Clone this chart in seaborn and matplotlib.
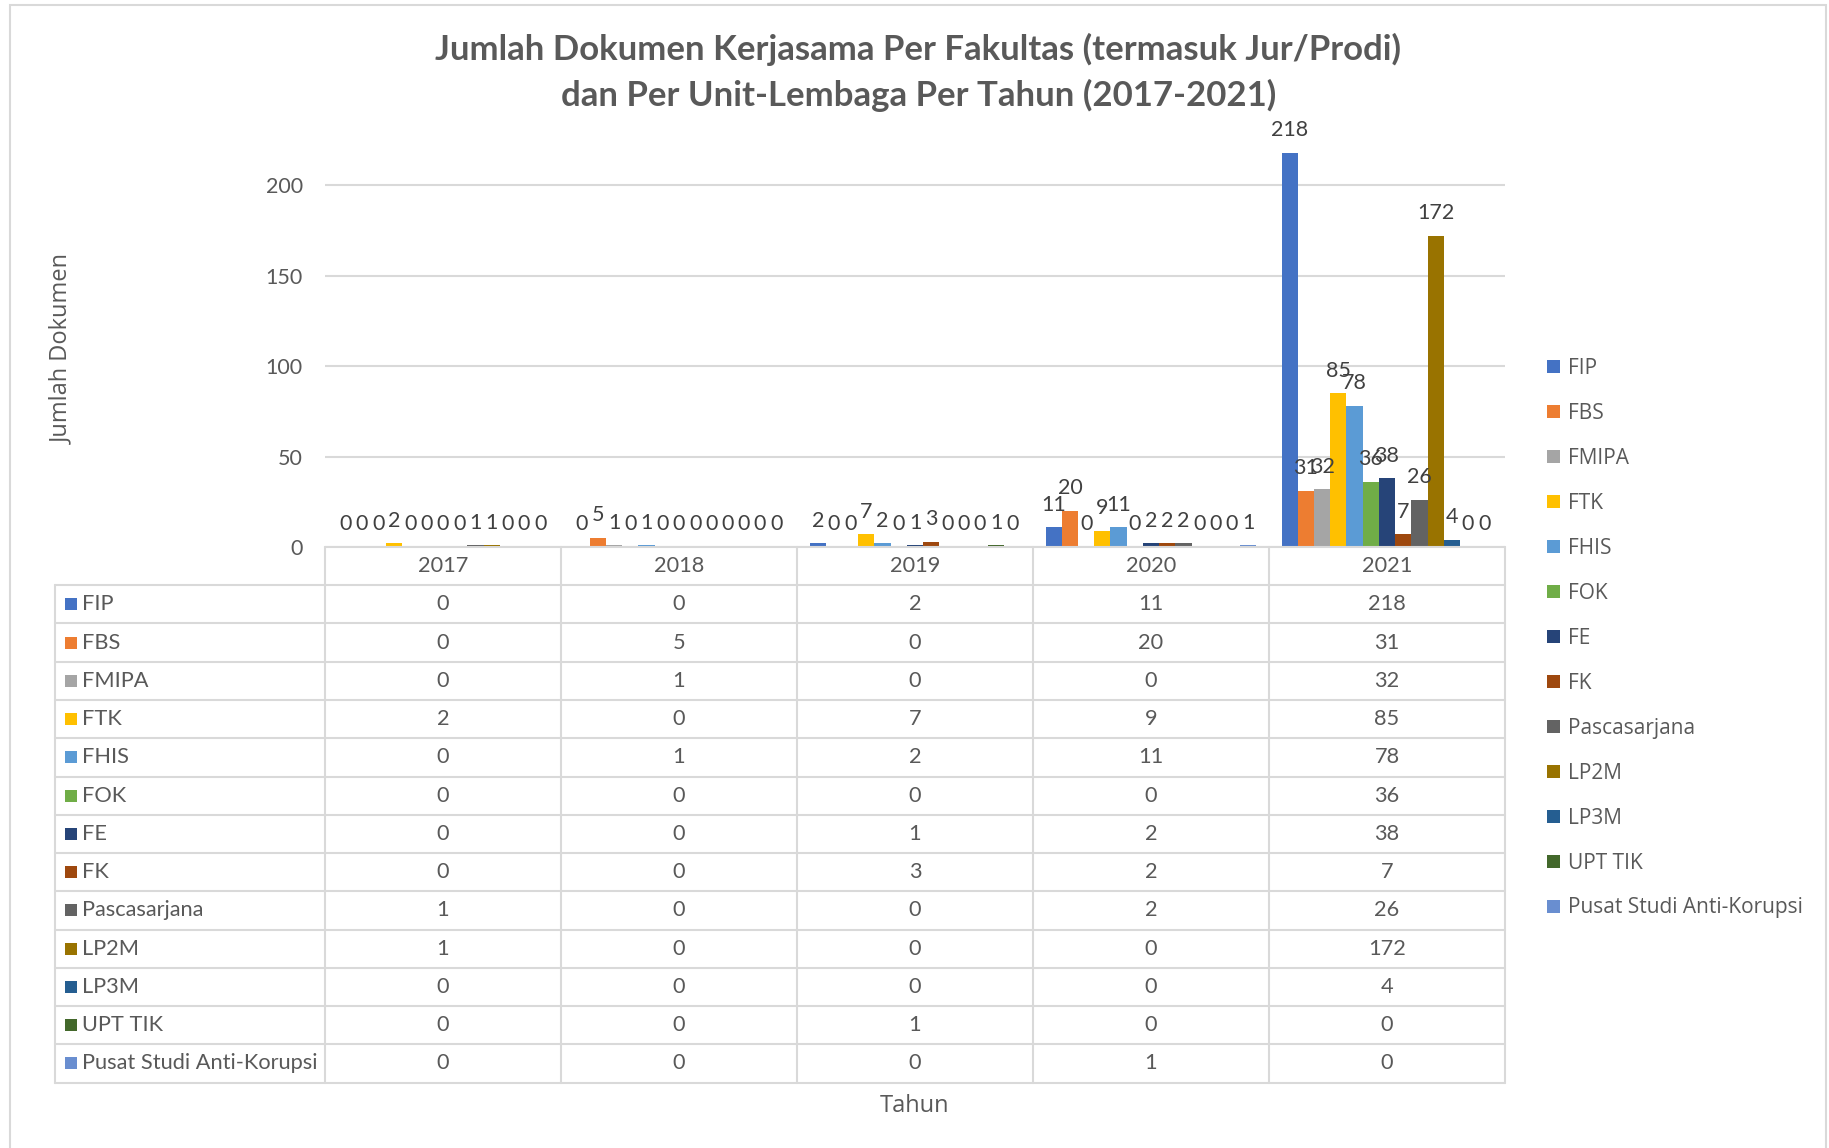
import matplotlib
matplotlib.use("Agg")
import matplotlib.pyplot as plt
from matplotlib.patches import Rectangle, Patch
import seaborn as sns
import pandas as pd

years = ["2017", "2018", "2019", "2020", "2021"]
units = ["FIP", "FBS", "FMIPA", "FTK", "FHIS", "FOK", "FE", "FK",
         "Pascasarjana", "LP2M", "LP3M", "UPT TIK", "Pusat Studi Anti-Korupsi"]
FIP = [0, 0, 2, 11, 218]
FBS = [0, 5, 0, 20, 31]
FMIPA = [0, 1, 0, 0, 32]
FTK = [2, 0, 7, 9, 85]
FHIS = [0, 1, 2, 11, 78]
FOK = [0, 0, 0, 0, 36]
FE = [0, 0, 1, 2, 38]
FK = [0, 0, 3, 2, 7]
PASCA = [1, 0, 0, 2, 26]
LP2M = [1, 0, 0, 0, 172]
LP3M = [0, 0, 0, 0, 4]
UPT_TIK = [0, 0, 1, 0, 0]
PSAK = [0, 0, 0, 1, 0]
series = [FIP, FBS, FMIPA, FTK, FHIS, FOK, FE, FK, PASCA, LP2M, LP3M, UPT_TIK, PSAK]
colors = ["#4472C4", "#ED7D31", "#A5A5A5", "#FFC000", "#5B9BD5", "#70AD47",
          "#264478", "#9E480E", "#636363", "#997300", "#255E91", "#43682B", "#698ED0"]

rows = []
for u, vals in zip(units, series):
    for y, v in zip(years, vals):
        rows.append({"Tahun": y, "Unit": u, "Jumlah": v})
df = pd.DataFrame(rows)

sns.set_theme(style="white")
plt.rcParams["font.family"] = ["Lato", "DejaVu Sans"]
TXT = "#595959"
GRID = "#D9D9D9"

W, H = 1829, 1148
fig = plt.figure(figsize=(W / 100, H / 100), dpi=100)
fig.patch.set_facecolor("white")

# outer chart border
fig.add_artist(Rectangle((10 / W, -0.01), (1826 - 10) / W, (H - 5) / H + 0.01,
                         transform=fig.transFigure, fill=False, edgecolor=GRID, lw=1.5))

pl, pr, pb, pt = 325, 1505, 547, 131
ax = fig.add_axes([pl / W, 1 - pb / H, (pr - pl) / W, (pb - pt) / H])
sns.barplot(data=df, x="Tahun", y="Jumlah", hue="Unit", hue_order=units, order=years,
            palette=colors, width=0.893, ax=ax, legend=False, saturation=1,
            edgecolor="none", linewidth=0)
ax.set_xlim(-0.5, 4.5)
ax.set_ylim(0, 230)
ax.set_yticks([0, 50, 100, 150, 200])
ax.yaxis.grid(True, color=GRID, lw=1.5)
ax.set_axisbelow(True)
for s in ax.spines.values():
    s.set_visible(False)
ax.set_xticks([])
ax.set_xlabel("")
ax.set_ylabel("")
ax.tick_params(axis="y", length=0, pad=16, labelsize=15.5, labelcolor=TXT)
for c in ax.containers:
    ax.bar_label(c, padding=9, fontsize=15.5, color="#404040")

# title
fig.text(0.502, 1 - 42.5 * 1.1665 / H, "Jumlah Dokumen Kerjasama Per Fakultas (termasuk Jur/Prodi)",
         ha="center", va="center", fontsize=25, fontweight="bold", color=TXT)
fig.text(0.502, 1 - 81.5 * 1.1665 / H, "dan Per Unit-Lembaga Per Tahun (2017-2021)",
         ha="center", va="center", fontsize=25, fontweight="bold", color=TXT)

# axis titles
fig.text(62 / W, 1 - 349 / H, "Jumlah Dokumen", rotation=90, ha="center", va="center",
         fontsize=17, color=TXT, family="Open Sans")
fig.text(914 / W, 1 - 1106 / H, "Tahun", ha="center", va="center", fontsize=17,
         color=TXT, family="Open Sans")

# data table
tl, tb = 55, 1082.5
tax = fig.add_axes([tl / W, 1 - tb / H, (pr - tl) / W, (tb - pb) / H])
xl = -0.5 - (pl - tl) / 236.0
tax.set_xlim(xl, 4.5)
nrow = len(units) + 1
tax.set_ylim(nrow, 0)
tax.axis("off")
lw = 1.5
tax.plot([-0.5, 4.5], [0, 0], color=GRID, lw=lw, clip_on=False)
for r in range(1, nrow + 1):
    tax.plot([xl, 4.5], [r, r], color=GRID, lw=lw, clip_on=False)
tax.plot([xl, xl], [1, nrow], color=GRID, lw=lw, clip_on=False)
for i in range(6):
    tax.plot([i - 0.5, i - 0.5], [0, nrow], color=GRID, lw=lw, clip_on=False)
TFS = 15.7
for i, y in enumerate(years):
    tax.text(i, 0.5, y, ha="center", va="center", fontsize=TFS, color=TXT)
sw_w = 12 / 236.0
sw_h = 12 / ((tb - pb) / nrow)
for r, (u, vals, col) in enumerate(zip(units, series, colors)):
    yc = r + 1.5
    tax.add_patch(Rectangle((xl + 10 / 236.0, yc - sw_h / 2), sw_w, sw_h, color=col, lw=0))
    tax.text(xl + 27 / 236.0, yc, u, ha="left", va="center", fontsize=TFS, color=TXT)
    for i, v in enumerate(vals):
        tax.text(i, yc, str(v), ha="center", va="center", fontsize=TFS, color=TXT)

# legend
handles = [Patch(facecolor=c, edgecolor="none", label=u) for u, c in zip(units, colors)]
leg = fig.legend(handles=handles, loc="upper left", bbox_to_anchor=(1547 / W, 1 - 358 / H),
                 frameon=False, prop={"family": "Open Sans", "size": 15},
                 handlelength=0.6, handleheight=0.6, handletextpad=0.4, labelspacing=1.15,
                 borderaxespad=0, borderpad=0)
for t in leg.get_texts():
    t.set_color(TXT)

fig.savefig("out.png", dpi=100, facecolor="white")
